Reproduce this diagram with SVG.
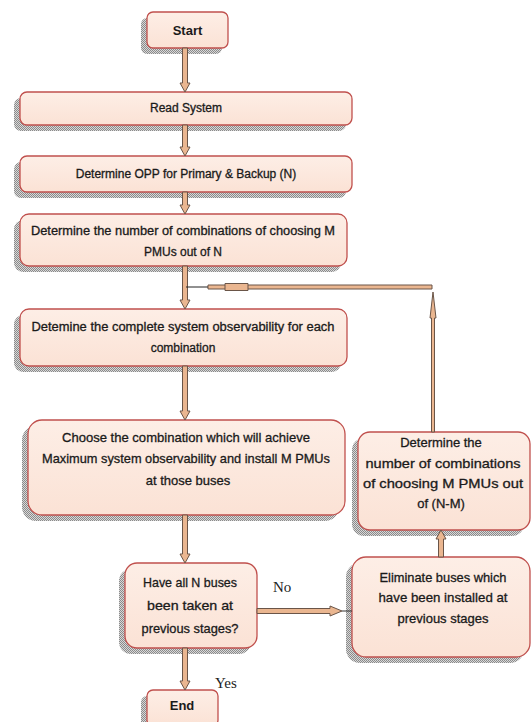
<svg xmlns="http://www.w3.org/2000/svg" width="531" height="722" viewBox="0 0 531 722">
<defs>
<pattern id="hatch" width="2" height="2" patternUnits="userSpaceOnUse">
<rect width="2" height="2" fill="#d8d8d8"/>
<rect width="1" height="1" fill="#8a8a8a"/>
<rect x="1" y="1" width="1" height="1" fill="#8a8a8a"/>
</pattern>
<linearGradient id="fillg" x1="0" y1="0" x2="0" y2="1">
<stop offset="0" stop-color="#fdeee6"/>
<stop offset="1" stop-color="#fbe2d5"/>
</linearGradient>
</defs>
<style>
.box{fill:url(#fillg);stroke:#c0504d;stroke-width:1.3}
.shadow{fill:url(#hatch)}
.t{font-family:"Liberation Sans","Noto Sans",sans-serif;font-size:12px;fill:#1a1a1a;stroke:#1a1a1a;stroke-width:0.3;text-anchor:middle}
.t13{font-size:13px}
.b{font-weight:bold;stroke-width:0}
.arr{fill:#eab690;stroke:#6a5548;stroke-width:1}
.lbl{font-family:"Liberation Serif",serif;font-size:15px;fill:#222}
</style>
<rect width="531" height="722" fill="#ffffff"/>

<g id="start">
<rect class="shadow" x="141" y="18" width="81" height="36" rx="6"/>
<rect class="box" x="147" y="12" width="81" height="36" rx="6"/>
<text class="t t13 b" x="187.5" y="35">Start</text>
</g>

<g id="read-system">
<rect class="shadow" x="14" y="98" width="332" height="33" rx="7"/>
<rect class="box" x="20" y="92" width="332" height="33" rx="7"/>
<text class="t" x="186" y="112">Read System</text>
</g>

<g id="determine-opp">
<rect class="shadow" x="14" y="162" width="332" height="36" rx="7"/>
<rect class="box" x="20" y="156" width="332" height="36" rx="7"/>
<text class="t" x="186" y="178">Determine OPP for Primary &amp; Backup (N)</text>
</g>

<g id="determine-number">
<rect class="shadow" x="14" y="220" width="327" height="52" rx="9"/>
<rect class="box" x="20" y="214" width="327" height="52" rx="9"/>
<text class="t" x="183" y="235" textLength="304" lengthAdjust="spacingAndGlyphs">Determine the number of combinations of choosing M</text>
<text class="t" x="183" y="256">PMUs out of N</text>
</g>

<g id="determine-complete">
<rect class="shadow" x="14" y="315" width="327" height="57" rx="9"/>
<rect class="box" x="20" y="309" width="327" height="57" rx="9"/>
<text class="t" x="183" y="331" textLength="303" lengthAdjust="spacingAndGlyphs">Detemine the complete system observability for each</text>
<text class="t" x="183" y="352">combination</text>
</g>

<g id="choose-combination">
<rect class="shadow" x="22" y="426" width="317" height="95" rx="14"/>
<rect class="box" x="28" y="420" width="317" height="95" rx="14"/>
<text class="t t13" x="186" y="442" textLength="248" lengthAdjust="spacingAndGlyphs">Choose the combination which will achieve</text>
<text class="t t13" x="186" y="463" textLength="288" lengthAdjust="spacingAndGlyphs">Maximum system observability and install M PMUs</text>
<text class="t t13" x="188" y="485">at those buses</text>
</g>

<g id="determine-nm">
<rect class="shadow" x="352" y="438" width="172" height="98" rx="12"/>
<rect class="box" x="358" y="432" width="172" height="98" rx="12"/>
<text class="t t13" x="441" y="447">Determine the</text>
<text class="t t13" x="443" y="468" textLength="155" lengthAdjust="spacingAndGlyphs">number of combinations</text>
<text class="t t13" x="443" y="488" textLength="160" lengthAdjust="spacingAndGlyphs">of choosing M PMUs out</text>
<text class="t t13" x="441" y="508">of (N-M)</text>
</g>

<g id="have-all">
<rect class="shadow" x="119" y="569" width="132" height="85" rx="12"/>
<rect class="box" x="125" y="563" width="132" height="85" rx="12"/>
<text class="t t13" x="190" y="587" textLength="94" lengthAdjust="spacingAndGlyphs">Have all N buses</text>
<text class="t t13" x="190" y="610" textLength="86" lengthAdjust="spacingAndGlyphs">been taken at</text>
<text class="t t13" x="190" y="633" textLength="97" lengthAdjust="spacingAndGlyphs">previous stages?</text>
</g>

<g id="eliminate">
<rect class="shadow" x="346" y="563" width="178" height="100" rx="14"/>
<rect class="box" x="352" y="557" width="178" height="100" rx="14"/>
<text class="t t13" x="443" y="582" textLength="127" lengthAdjust="spacingAndGlyphs">Eliminate buses which</text>
<text class="t t13" x="443" y="602" textLength="129" lengthAdjust="spacingAndGlyphs">have been installed at</text>
<text class="t t13" x="443" y="623">previous stages</text>
</g>

<g id="end">
<rect class="shadow" x="141" y="696" width="71" height="36" rx="6"/>
<rect class="box" x="147" y="690" width="71" height="36" rx="6"/>
<text class="t t13 b" x="182" y="710">End</text>
</g>

<g id="connectors">
<path class="arr" d="M182.5,48 H187.5 V83 H190 L185,92 L180,83 H182.5 Z"/>
<path class="arr" d="M182.5,125 H187.5 V147 H190 L185,156 L180,147 H182.5 Z"/>
<path class="arr" d="M182.5,192 H187.5 V205 H190 L185,214 L180,205 H182.5 Z"/>
<path class="arr" d="M182.5,266 H187.5 V300 H190 L185,309 L180,300 H182.5 Z"/>
<path class="arr" d="M182.5,366 H187.5 V411 H190 L185,420 L180,411 H182.5 Z"/>
<path class="arr" d="M182.5,515 H187.5 V554 H190 L185,563 L180,554 H182.5 Z"/>
<path class="arr" d="M182.5,648 H187.5 V681 H190 L185,690 L180,681 H182.5 Z"/>
<path class="arr" d="M257,608.5 V613.5 H330 V616 L342,611 L330,606 V608.5 Z"/>
<line x1="342" y1="611" x2="352" y2="611" stroke="#333" stroke-width="1"/>
<path class="arr" d="M438.5,557 H443.5 V539 H446 L441,530 L436,539 H438.5 Z"/>
<path class="arr" d="M431.5,432 V318 H430 L433,292 L436,318 H434.5 V432 Z"/>
<path class="arr" d="M432,285 V289 H208 V285 Z"/>
<path class="arr" d="M225,283.5 H248 V290.5 H225 Z"/>
<line x1="186" y1="287" x2="208" y2="287" stroke="#222" stroke-width="1"/>
</g>

<text class="lbl" x="273" y="592">No</text>
<text class="lbl" x="215" y="688">Yes</text>
</svg>
